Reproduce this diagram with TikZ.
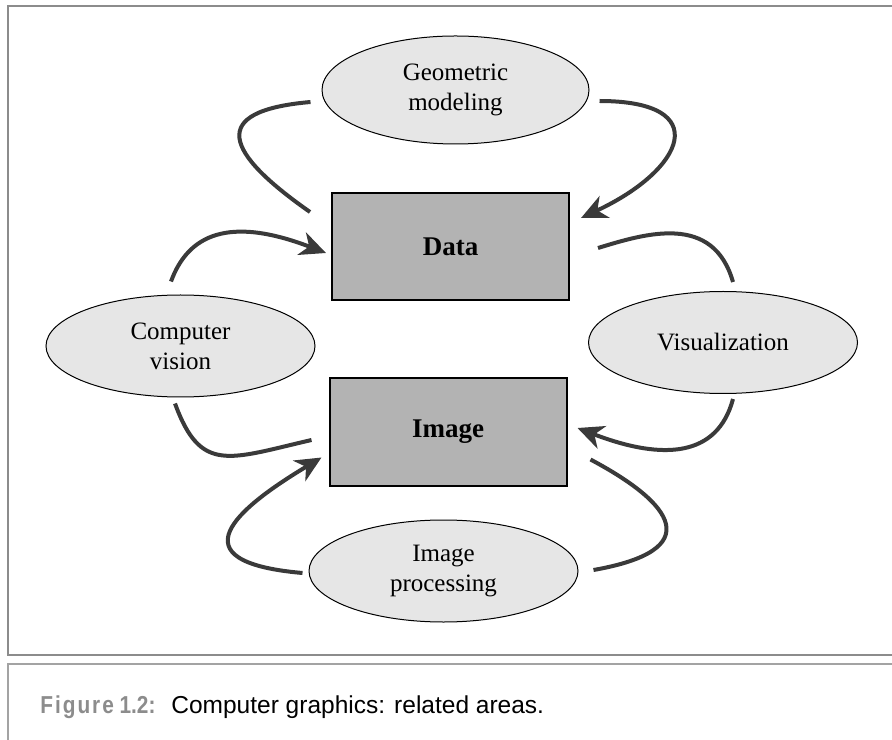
\documentclass[tikz,border=0pt]{standalone}
\usepackage{fontspec}
\setmainfont{Liberation Serif}
\newfontfamily\capfont{Liberation Sans}
\newfontfamily\capnarrow[FakeStretch=0.85]{Liberation Sans}
\usetikzlibrary{arrows.meta, shapes.geometric}

\definecolor{framegray}{HTML}{8C8C8C}
\definecolor{boxgray}{HTML}{B3B3B3}
\definecolor{ovalgray}{HTML}{E6E6E6}
\definecolor{flowgray}{HTML}{3A3A3A}

\tikzset{
  field/.style={ellipse, draw=black, line width=0.5pt, fill=ovalgray, inner sep=0pt,
    minimum width=134.5pt, minimum height=51pt, align=center,
    font=\fontsize{12.5}{15}\selectfont},
  store/.style={rectangle, draw=black, line width=1pt, fill=boxgray,
    minimum width=118.5pt, minimum height=53.5pt,
    font=\fontsize{13.5}{16}\selectfont\bfseries},
  flow/.style={line width=2pt, draw=flowgray},
  flowhead/.style={-{Stealth[length=13pt,width=12pt,inset=4pt]}}
}

\begin{document}
\begin{tikzpicture}[x=0.5pt, y=0.5pt]
  \useasboundingbox (0,0) rectangle (892,739);
  % frames
  \draw[framegray, line width=1pt] (900,733) -- (8,733) -- (8,84) -- (900,84);
  \draw[framegray!80, line width=1pt] (900,75) -- (8,75) -- (8,-10);

  % areas and stores
  \node[field, minimum width=133.5pt, minimum height=54pt] (gm) at (455.5,649) {Geometric\\modeling};
  \node[field] (cv) at (180.5,393) {Computer\\vision};
  \node[field] (vis) at (723,396.5) {Visualization};
  \node[field] (ip) at (443.5,168) {Image\\processing};
  \node[store] (data) at (450.5,492.5) {Data};
  \node[store] (img) at (448,307) {Image};

  % flows
  \draw[flow] ([xshift=-5.5pt,yshift=-6pt]gm.west) to[out=185, in=145, distance=52pt] ([xshift=-10.5pt,yshift=-10pt]data.north west);
  \draw[flow, flowhead] ([xshift=5pt,yshift=-5.5pt]gm.east) to[out=0, in=25, distance=57.5pt] ([xshift=5.5pt,yshift=-13pt]data.north east);
  \draw[flow, flowhead] ([xshift=-4.75pt,yshift=6.5pt]cv.north) to[out=70, in=159, out distance=25pt, in distance=52pt] ([xshift=-2.5pt,yshift=-3.25pt]data.west);
  \draw[flow] ([xshift=-2.75pt,yshift=-3pt]cv.south) to[out=-70, in=193, out distance=37.5pt, in distance=42.5pt] ([xshift=-8.5pt,yshift=-4pt]img.west);
  \draw[flow, flowhead] ([xshift=-3pt,yshift=-1pt]ip.west) to[out=175, in=211, out distance=65pt, in distance=49.5pt] ([xshift=-3.5pt,yshift=14.5pt]img.south west);
  \draw[flow] ([xshift=11.5pt,yshift=13.5pt]img.south east) to[out=-28, in=10, out distance=47.5pt, in distance=57.5pt] ([xshift=7.5pt,yshift=0.5pt]ip.east);
  \draw[flow, flowhead] ([xshift=5pt,yshift=-2.5pt]vis.south) to[out=-105, in=-21, out distance=30pt, in distance=46pt] ([xshift=5pt,yshift=2pt]img.east);
  \draw[flow] ([xshift=14pt,yshift=-0.75pt]data.east) to[out=17, in=106, out distance=25pt, in distance=36pt] ([xshift=5pt,yshift=4.5pt]vis.north);

  % caption
  \node[anchor=base west, inner sep=0pt, text=framegray, font=\capnarrow\bfseries\fontsize{12.25}{14}\selectfont] (fig) at (40,26) {{\addfontfeature{LetterSpace=8}Figure} 1.2:};
  \node[anchor=base west, inner sep=0pt, font=\capfont\fontsize{12.25}{14}\selectfont] (captext) at (171,26) {Computer graphics: related areas.};
\end{tikzpicture}
\end{document}
